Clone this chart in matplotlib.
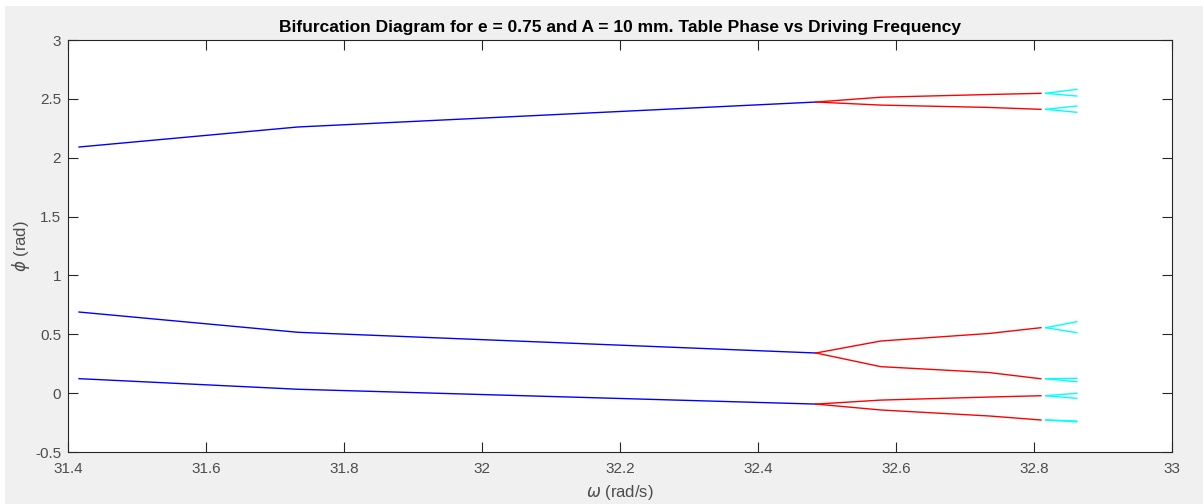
import matplotlib.pyplot as plt
from matplotlib.patches import Rectangle

plt.rcParams['font.family'] = ['Liberation Sans', 'DejaVu Sans']
plt.rcParams['mathtext.fontset'] = 'dejavusans'

# period 1 (blue)
w_blue = [31.416, 31.733, 32.484]
phi_blue = [
    [2.091, 2.261, 2.473],
    [0.689, 0.517, 0.341],
    [0.123, 0.033, -0.093],
]

# period 2 (red)
w_red = [32.484, 32.578, 32.735, 32.810]
phi_red = [
    [2.473, 2.514, 2.537, 2.547],
    [2.473, 2.447, 2.427, 2.411],
    [0.341, 0.443, 0.507, 0.556],
    [0.341, 0.225, 0.175, 0.122],
    [-0.093, -0.059, -0.033, -0.022],
    [-0.093, -0.143, -0.194, -0.228],
]

# period 4 (cyan): each red branch splits in two
w_cyan = [32.817, 32.862]
phi_cyan_start = [2.547, 2.411, 0.556, 0.122, -0.022, -0.228]
phi_cyan_hi = [2.581, 2.439, 0.607, 0.126, -0.001, -0.237]
phi_cyan_lo = [2.524, 2.386, 0.514, 0.097, -0.044, -0.243]

xticks = [31.4, 31.6, 31.8, 32, 32.2, 32.4, 32.6, 32.8, 33]
xticklabels = ['31.4', '31.6', '31.8', '32', '32.2', '32.4', '32.6', '32.8', '33']
yticks = [-0.5, 0, 0.5, 1, 1.5, 2, 2.5, 3]
yticklabels = ['-0.5', '0', '0.5', '1', '1.5', '2', '2.5', '3']

fig = plt.figure(figsize=(12.03, 5.04), dpi=100, facecolor='white')
fig.patches.append(Rectangle((5 / 1203, 0), 1, 1 - 6 / 504, transform=fig.transFigure,
                             facecolor='#f0f0f0', edgecolor='none', zorder=-10))
ax = fig.add_axes([68 / 1203, 52 / 504, (1172 - 68) / 1203, (452 - 40) / 504])
ax.set_facecolor('white')

for ys in phi_blue:
    ax.plot(w_blue, ys, color='blue', lw=1)
for ys in phi_red:
    ax.plot(w_red, ys, color='red', lw=1)
for s, hi, lo in zip(phi_cyan_start, phi_cyan_hi, phi_cyan_lo):
    ax.plot(w_cyan, [s, hi], color='cyan', lw=1)
    ax.plot(w_cyan, [s, lo], color='cyan', lw=1)

ax.set_xlim(31.4, 33)
ax.set_ylim(-0.5, 3)
ax.set_xticks(xticks)
ax.set_xticklabels(xticklabels)
ax.set_yticks(yticks)
ax.set_yticklabels(yticklabels)
ax.tick_params(direction='in', length=7.5, width=0.8, colors='#262626', labelcolor='#4d4d4d',
               labelsize=11, top=True, right=True)
ax.tick_params(axis='x', pad=7)
ax.tick_params(axis='y', pad=5)
for sp in ax.spines.values():
    sp.set_color('#262626')
    sp.set_linewidth(0.8)

ax.set_xlabel(r'$\omega$ (rad/s)', fontsize=12, color='#4d4d4d', labelpad=5)
ax.set_ylabel(r'$\phi$ (rad)', fontsize=12, color='#4d4d4d', labelpad=2)
ax.set_title('Bifurcation Diagram for e = 0.75 and A = 10 mm. Table Phase vs Driving Frequency',
             fontsize=12.5, fontweight='bold', color='black', pad=6)

fig.savefig('out.png', dpi=100, facecolor=fig.get_facecolor())
